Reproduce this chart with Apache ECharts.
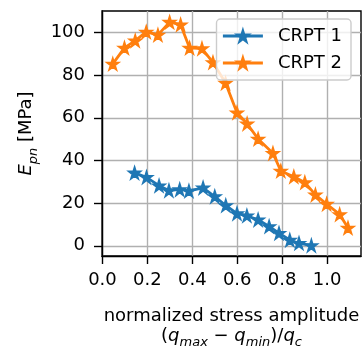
<!DOCTYPE html>
<html><head><meta charset="utf-8">
<script src="https://cdn.jsdelivr.net/npm/echarts@6/dist/echarts.min.js"></script>
<style>html,body{margin:0;padding:0;background:#fff}#c{width:363px;height:354px}</style>
</head><body><div id="c"></div>
<script>
const xTicks = [0.0, 0.2, 0.4, 0.6, 0.8, 1.0];
const yTicks = [0, 20, 40, 60, 80, 100];
const seriesNames = ['CRPT 1', 'CRPT 2'];
const crpt1X = [0.143, 0.196, 0.252, 0.296, 0.344, 0.385, 0.448, 0.500, 0.549, 0.599, 0.643, 0.693, 0.742, 0.786, 0.834, 0.875, 0.930];
const crpt1Y = [34.2, 32.1, 28.2, 25.9, 26.4, 25.7, 27.2, 23.1, 18.9, 15.1, 14.1, 12.2, 9.1, 5.9, 2.7, 1.2, 0.1];
const crpt2X = [0.046, 0.098, 0.146, 0.195, 0.247, 0.299, 0.348, 0.388, 0.443, 0.492, 0.548, 0.599, 0.644, 0.693, 0.759, 0.794, 0.852, 0.901, 0.948, 0.998, 1.056, 1.093];
const crpt2Y = [85.3, 92.8, 96.2, 100.3, 98.9, 104.9, 103.7, 92.8, 92.5, 86.0, 76.3, 62.4, 57.2, 50.1, 43.4, 35.1, 32.4, 29.7, 23.9, 19.6, 14.7, 8.4];

const FONT = 'DejaVu Sans';
const STAR = 'path://M0,-100L22.45,-30.9L95.1,-30.9L36.3,11.8L58.8,80.9L0,38.2L-58.8,80.9L-36.3,11.8L-95.1,-30.9L-22.45,-30.9Z';
const BLUE = '#1f77b4', ORANGE = '#ff7f0e';

const richStyles = {
  p: {fontSize: 18, fontFamily: FONT, color: '#000', align: 'center', verticalAlign: 'bottom', padding: [0, 0, 4, 0]},
  q: {fontSize: 18, fontFamily: FONT, fontStyle: 'italic', color: '#000', align: 'center', verticalAlign: 'bottom', padding: [0, 0, 4, 0]},
  s: {fontSize: 13, fontFamily: FONT, fontStyle: 'italic', color: '#000', align: 'center', verticalAlign: 'bottom'}
};

function mk(xs, ys) { return xs.map((x, i) => [x, ys[i]]); }

const axisCommon = {
  axisLine: {show: true, onZero: false, lineStyle: {color: '#000', width: 1.4}},
  splitLine: {show: true, lineStyle: {color: '#b0b0b0', width: 1.4}}
};

const chart = echarts.init(document.getElementById('c'), null, {renderer: 'canvas'});
chart.setOption({
  animation: false,
  grid: {left: 102, top: 11, right: 2, bottom: 88, show: true, borderColor: '#000', borderWidth: 1.4, backgroundColor: 'transparent'},
  xAxis: Object.assign({
    type: 'value', min: -0.002, max: 1.151,
    axisTick: {show: true, customValues: xTicks, length: 8, lineStyle: {color: '#000', width: 1.4}},
    axisLabel: {customValues: xTicks, formatter: v => v.toFixed(1), fontSize: 18, fontFamily: FONT, color: '#000', margin: 15},
    name: 'normalized stress amplitude\n{p|(}{q|q}{s|max}{p| − }{q|q}{s|min}{p|)/}{q|q}{s|c}',
    nameLocation: 'middle', nameGap: 49,
    nameTextStyle: {fontSize: 18, fontFamily: FONT, color: '#000', lineHeight: 22, rich: richStyles}
  }, axisCommon),
  yAxis: Object.assign({
    type: 'value', min: -4.8, max: 110.1,
    axisTick: {show: true, customValues: yTicks, length: 8, lineStyle: {color: '#000', width: 1.4}},
    axisLabel: {customValues: yTicks, fontSize: 18, fontFamily: FONT, color: '#000', margin: 17},
    name: '{q|E}{s|pn}{p| [MPa]}',
    nameLocation: 'middle', nameGap: 62, nameRotate: 90,
    nameTextStyle: {fontSize: 18, fontFamily: FONT, color: '#000', rich: richStyles}
  }, axisCommon),
  legend: {
    orient: 'vertical', right: 12, top: 19, padding: [6, 9, 6, 5],
    itemWidth: 40, itemHeight: 15, itemGap: 5,
    backgroundColor: 'rgba(255,255,255,0.8)', borderColor: '#cccccc', borderWidth: 1.4, borderRadius: 4,
    lineStyle: {width: 2.8},
    textStyle: {fontSize: 18, fontFamily: FONT, color: '#000', padding: [0, 0, 0, 10], lineHeight: 22},
    data: seriesNames
  },
  series: [
    {type: 'line', name: seriesNames[0], data: mk(crpt1X, crpt1Y), symbol: STAR, symbolSize: 12, showAllSymbol: true,
     lineStyle: {color: BLUE, width: 2.8}, itemStyle: {color: BLUE, borderColor: BLUE, borderWidth: 1.6}, emphasis: {disabled: true}},
    {type: 'line', name: seriesNames[1], data: mk(crpt2X, crpt2Y), symbol: STAR, symbolSize: 12, showAllSymbol: true,
     lineStyle: {color: ORANGE, width: 2.8}, itemStyle: {color: ORANGE, borderColor: ORANGE, borderWidth: 1.6}, emphasis: {disabled: true}}
  ]
});
</script></body></html>
